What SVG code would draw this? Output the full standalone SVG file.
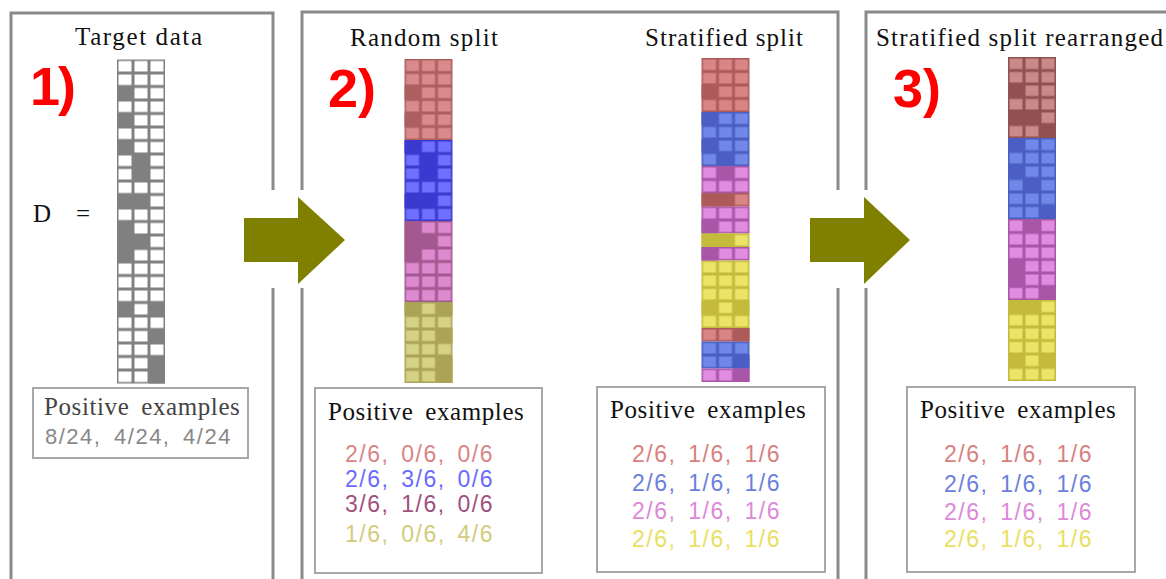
<svg xmlns="http://www.w3.org/2000/svg" width="1166" height="579" viewBox="0 0 1166 579">
<style>
.frame{fill:none;stroke:#8a8a8a;stroke-width:3}
.title{font-family:"Liberation Serif","DejaVu Serif",serif;font-size:25px;fill:#111}
.num{font-family:"Liberation Sans",Arial,sans-serif;font-weight:bold;font-size:54px;fill:#ff0000}
.box{fill:#fff;stroke:#a8a8a8;stroke-width:2}
.ph{font-family:"Liberation Serif","DejaVu Serif",serif;font-size:25px;fill:#111;word-spacing:5px;letter-spacing:0.6px}
.frac{font-family:"Liberation Sans",Arial,sans-serif;font-size:23px;word-spacing:4px;letter-spacing:1.5px}
.arrow{fill:#808000}
.gk{fill:#808080}.rr{fill:#ad5e5e}.rb{fill:#3a3ad0}.rp{fill:#a35890}.ry{fill:#aba456}
.sr{fill:#ad5a5a}.sb{fill:#4a5ec4}.sp{fill:#a955a8}.sy{fill:#c4bb3c}
.ar{fill:#935050}
</style>
<defs>
<pattern id="pG" patternUnits="userSpaceOnUse" width="16" height="13.5"><rect width="16" height="13.5" fill="#808080"/><rect x="1.5" y="1.5" width="13" height="10.5" fill="#fff"/></pattern>
<pattern id="pRR" patternUnits="userSpaceOnUse" width="16" height="13.5"><rect width="16" height="13.5" fill="#ad5e5e"/><rect x="1.5" y="1.5" width="13" height="10.5" fill="#da8a8a"/></pattern>
<pattern id="pRB" patternUnits="userSpaceOnUse" width="16" height="13.5"><rect width="16" height="13.5" fill="#3a3ad0"/><rect x="1.5" y="1.5" width="13" height="10.5" fill="#7070ff"/></pattern>
<pattern id="pRP" patternUnits="userSpaceOnUse" width="16" height="13.5"><rect width="16" height="13.5" fill="#a35890"/><rect x="1.5" y="1.5" width="13" height="10.5" fill="#de8ad0"/></pattern>
<pattern id="pRY" patternUnits="userSpaceOnUse" width="16" height="13.5"><rect width="16" height="13.5" fill="#aba456"/><rect x="1.5" y="1.5" width="13" height="10.5" fill="#d6d283"/></pattern>
<pattern id="pSR" patternUnits="userSpaceOnUse" width="16" height="13.5"><rect width="16" height="13.5" fill="#ad5a5a"/><rect x="1.5" y="1.5" width="13" height="10.5" fill="#da8585"/></pattern>
<pattern id="pSB" patternUnits="userSpaceOnUse" width="16" height="13.5"><rect width="16" height="13.5" fill="#4a5ec4"/><rect x="1.5" y="1.5" width="13" height="10.5" fill="#7088e6"/></pattern>
<pattern id="pSP" patternUnits="userSpaceOnUse" width="16" height="13.5"><rect width="16" height="13.5" fill="#a955a8"/><rect x="1.5" y="1.5" width="13" height="10.5" fill="#e08ce0"/></pattern>
<pattern id="pSY" patternUnits="userSpaceOnUse" width="16" height="13.5"><rect width="16" height="13.5" fill="#c4bb3c"/><rect x="1.5" y="1.5" width="13" height="10.5" fill="#ece468"/></pattern>
<pattern id="pAR" patternUnits="userSpaceOnUse" width="16" height="13.5"><rect width="16" height="13.5" fill="#935050"/><rect x="1.5" y="1.5" width="13" height="10.5" fill="#c98a8a"/></pattern>
</defs>
<rect width="1166" height="579" fill="#fff"/>

<g id="frames">
<path class="frame" d="M11,579 V13 H273 V579"/>
<path class="frame" d="M302,579 V12 H838 V579"/>
<path class="frame" d="M866,579 V12 H1166"/>
</g>

<g id="connectors">
<rect x="262" y="190" width="50" height="98" fill="#fff"/>
<rect x="828" y="190" width="48" height="98" fill="#fff"/>
<polygon class="arrow" points="244,218 298,218 298,197 345,240 298,284 298,262 244,262"/>
<polygon class="arrow" points="810,218 864,218 864,197 910,240 864,284 864,262 810,262"/>
</g>

<g id="panel1">
<text class="title" x="75" y="45" textLength="127" lengthAdjust="spacing">Target data</text>
<text class="num" x="30" y="105" textLength="46" lengthAdjust="spacing">1)</text>
<text class="title" x="33" y="222" textLength="57" lengthAdjust="spacing">D =</text>
<g id="grid-target" transform="translate(117,59.5)">
<rect width="48" height="324" fill="url(#pG)"/>
<g class="gk">
<rect x="0" y="27" width="16" height="13.5"/><rect x="0" y="54" width="16" height="13.5"/><rect x="0" y="81" width="16" height="13.5"/>
<rect x="16" y="94.5" width="16" height="13.5"/><rect x="16" y="108" width="16" height="13.5"/>
<rect x="0" y="135" width="32" height="13.5"/><rect x="0" y="162" width="16" height="40.5"/><rect x="16" y="175.5" width="16" height="13.5"/>
<rect x="0" y="243" width="16" height="13.5"/><rect x="32" y="243" width="16" height="13.5"/><rect x="32" y="270" width="16" height="13.5"/><rect x="32" y="297" width="16" height="27"/>
</g>
</g>
<g id="box1">
<rect class="box" x="33" y="388" width="215" height="70"/>
<text class="ph" x="44" y="415" style="fill:#444">Positive examples</text>
<text class="frac" x="45" y="444" fill="#888" style="font-size:22px;word-spacing:5px;letter-spacing:1.5px">8/24, 4/24, 4/24</text>
</g>
</g>

<g id="panel2">
<text class="title" x="350" y="46" textLength="148" lengthAdjust="spacing">Random split</text>
<text class="title" x="645" y="46" textLength="158" lengthAdjust="spacing">Stratified split</text>
<text class="num" x="328" y="107" textLength="48" lengthAdjust="spacing">2)</text>
<g id="grid-random" transform="translate(404.5,59)">
<rect y="0" width="48" height="81" fill="url(#pRR)"/>
<rect y="81" width="48" height="81" fill="url(#pRB)"/>
<rect y="162" width="48" height="81" fill="url(#pRP)"/>
<rect y="243" width="48" height="81" fill="url(#pRY)"/>
<g class="rr"><rect x="0" y="27" width="16" height="13.5"/><rect x="0" y="54" width="16" height="13.5"/></g>
<g class="rb"><rect x="0" y="81" width="16" height="13.5"/><rect x="16" y="94.5" width="16" height="27"/><rect x="0" y="135" width="32" height="13.5"/></g>
<g class="rp"><rect x="0" y="162" width="16" height="40.5"/><rect x="16" y="175.5" width="16" height="13.5"/></g>
<g class="ry"><rect x="0" y="243" width="16" height="13.5"/><rect x="32" y="243" width="16" height="13.5"/><rect x="32" y="270" width="16" height="13.5"/><rect x="32" y="297" width="16" height="27"/></g>
</g>
<g id="grid-stratified" transform="translate(701.5,58)">
<rect y="0" width="48" height="54" fill="url(#pSR)"/>
<rect y="54" width="48" height="54" fill="url(#pSB)"/>
<rect y="108" width="48" height="27" fill="url(#pSP)"/>
<rect y="135" width="48" height="13.5" fill="url(#pSR)"/>
<rect y="148.5" width="48" height="27" fill="url(#pSP)"/>
<rect y="175.5" width="48" height="13.5" fill="url(#pSY)"/>
<rect y="189" width="48" height="13.5" fill="url(#pSP)"/>
<rect y="202.5" width="48" height="67.5" fill="url(#pSY)"/>
<rect y="270" width="48" height="13.5" fill="url(#pSR)"/>
<rect y="283.5" width="48" height="27" fill="url(#pSB)"/>
<rect y="310.5" width="48" height="13.5" fill="url(#pSP)"/>
<g class="sr"><rect x="0" y="27" width="16" height="13.5"/><rect x="0" y="135" width="32" height="13.5"/><rect x="32" y="270" width="16" height="13.5"/></g>
<g class="sb"><rect x="0" y="54" width="16" height="13.5"/><rect x="0" y="81" width="16" height="13.5"/><rect x="16" y="94.5" width="16" height="13.5"/><rect x="32" y="297" width="16" height="13.5"/></g>
<g class="sp"><rect x="16" y="108" width="16" height="13.5"/><rect x="0" y="162" width="16" height="13.5"/><rect x="0" y="189" width="16" height="13.5"/><rect x="32" y="310.5" width="16" height="13.5"/></g>
<g class="sy"><rect x="0" y="175.5" width="32" height="13.5"/><rect x="0" y="243" width="16" height="13.5"/><rect x="32" y="243" width="16" height="13.5"/></g>
</g>
<g id="box2a">
<rect class="box" x="315" y="388" width="227" height="185"/>
<text class="ph" x="328" y="420">Positive examples</text>
<text class="frac" x="345" y="462" fill="#d98585">2/6, 0/6, 0/6</text>
<text class="frac" x="345" y="487" fill="#6a6aff">2/6, 3/6, 0/6</text>
<text class="frac" x="345" y="512" fill="#a0507e">3/6, 1/6, 0/6</text>
<text class="frac" x="345" y="542" fill="#d2cc7a">1/6, 0/6, 4/6</text>
</g>
<g id="box2b">
<rect class="box" x="597" y="387" width="228" height="185"/>
<text class="ph" x="610" y="418">Positive examples</text>
<text class="frac" x="632" y="462" fill="#d98080">2/6, 1/6, 1/6</text>
<text class="frac" x="632" y="491" fill="#6a80dc">2/6, 1/6, 1/6</text>
<text class="frac" x="632" y="519" fill="#dd88d8">2/6, 1/6, 1/6</text>
<text class="frac" x="632" y="547" fill="#e8e060">2/6, 1/6, 1/6</text>
</g>
</g>

<g id="panel3">
<text class="title" x="876" y="46" textLength="287" lengthAdjust="spacing">Stratified split rearranged</text>
<text class="num" x="893" y="107" textLength="48" lengthAdjust="spacing">3)</text>
<g id="grid-rearranged" transform="translate(1008,57)">
<rect y="0" width="48" height="81" fill="url(#pAR)"/>
<rect y="81" width="48" height="81" fill="url(#pSB)"/>
<rect y="162" width="48" height="81" fill="url(#pSP)"/>
<rect y="243" width="48" height="81" fill="url(#pSY)"/>
<g class="ar"><rect x="0" y="27" width="16" height="13.5"/><rect x="0" y="54" width="32" height="13.5"/><rect x="32" y="67.5" width="16" height="13.5"/></g>
<g class="sb"><rect x="0" y="81" width="16" height="13.5"/><rect x="0" y="108" width="16" height="13.5"/><rect x="16" y="121.5" width="16" height="13.5"/><rect x="32" y="148.5" width="16" height="13.5"/></g>
<g class="sp"><rect x="16" y="162" width="16" height="13.5"/><rect x="0" y="202.5" width="16" height="27"/><rect x="32" y="229.5" width="16" height="13.5"/></g>
<g class="sy"><rect x="0" y="243" width="32" height="13.5"/><rect x="0" y="297" width="16" height="13.5"/><rect x="32" y="297" width="16" height="13.5"/></g>
</g>
<g id="box3">
<rect class="box" x="907" y="387" width="228" height="185"/>
<text class="ph" x="920" y="418">Positive examples</text>
<text class="frac" x="944" y="462" fill="#d98080">2/6, 1/6, 1/6</text>
<text class="frac" x="944" y="492" fill="#6a80dc">2/6, 1/6, 1/6</text>
<text class="frac" x="944" y="520" fill="#dd88d8">2/6, 1/6, 1/6</text>
<text class="frac" x="944" y="547" fill="#e8e060">2/6, 1/6, 1/6</text>
</g>
</g>
</svg>
